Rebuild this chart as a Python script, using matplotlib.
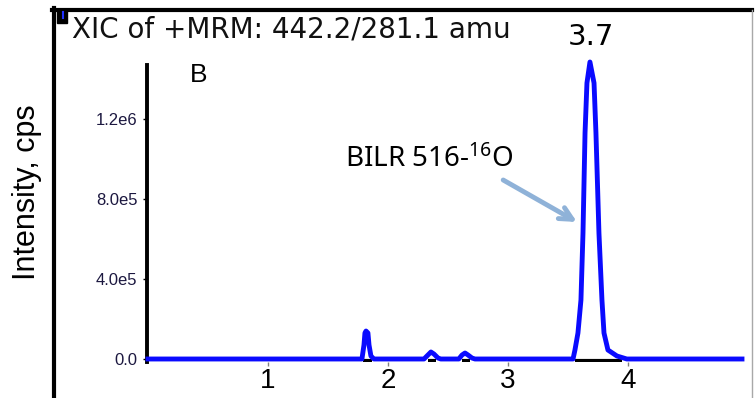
import numpy as np
import matplotlib.pyplot as plt
from matplotlib.patches import Rectangle
from matplotlib.lines import Line2D

plt.rcParams["font.family"] = ["Liberation Sans", "DejaVu Sans"]

# XIC trace (time in min, intensity in cps)
rt = [0.0,
      1.783, 1.80, 1.808, 1.817, 1.833, 1.842, 1.858, 1.883,
      2.30, 2.333, 2.358, 2.383, 2.417, 2.44,
      2.59, 2.617, 2.642, 2.667, 2.70, 2.725,
      3.542, 3.558, 3.583, 3.608, 3.625, 3.642, 3.658, 3.683,
      3.717, 3.733, 3.758, 3.783, 3.80, 3.833, 3.908, 3.99,
      4.95]
intensity = [0.0,
             0.0, 7.0e4, 1.3e5, 1.4e5, 1.3e5, 7.0e4, 1.5e4, 0.0,
             0.0, 2.0e4, 3.5e4, 2.5e4, 5.0e3, 0.0,
             0.0, 2.0e4, 3.0e4, 2.0e4, 5.0e3, 0.0,
             0.0, 4.5e4, 1.3e5, 2.95e5, 6.3e5, 1.13e6, 1.38e6, 1.485e6,
             1.38e6, 1.13e6, 6.3e5, 2.95e5, 1.3e5, 4.5e4, 1.5e4, 0.0,
             0.0]

# integrated peak windows (start, end)
peak_start = [1.79, 2.33, 2.62, 3.56]
peak_end = [1.87, 2.40, 2.68, 3.95]

yticks = [0, 4.0e5, 8.0e5, 1.2e6]
ytick_labels = ["0.0", "4.0e5", "8.0e5", "1.2e6"]
xticks = [1, 2, 3, 4]
xtick_labels = ["1", "2", "3", "4"]

title = "XIC of +MRM: 442.2/281.1 amu"
peak_label = "3.7"
compound = r"BILR 516-$\mathregular{^{16}}$O"

W, H = 755, 398
fig = plt.figure(figsize=(W / 100, H / 100), dpi=100)
fig.patch.set_facecolor("white")

# axes placed in pixel terms
ax = fig.add_axes([147 / W, 1 - 362 / H, (742 - 147) / W, 300 / H])
ax.set_xlim(-0.008, 4.95)
ax.set_ylim(-1.5e4, 1.485e6)

ax.plot(rt, intensity, color="#0a0aff", lw=3.5, solid_joinstyle="round",
        clip_on=False, zorder=3)
ax.hlines([-9e3] * len(peak_start), peak_start, peak_end, color="black",
          lw=3, zorder=2)

for s in ["top", "right", "bottom"]:
    ax.spines[s].set_visible(False)
ax.spines["left"].set_linewidth(2.8)
ax.spines["left"].set_bounds(-1.5e4, 1.47e6)

ax.set_yticks(yticks)
ax.set_yticklabels(ytick_labels, fontsize=12, color="#1c1840")
ax.tick_params(axis="y", length=3, width=1, pad=4)
ax.set_xticks(xticks)
ax.set_xticklabels(xtick_labels, fontsize=20)
ax.tick_params(axis="x", length=3, width=1, color="#808080", pad=1)

imax = int(np.argmax(intensity))
ax.annotate(peak_label, xy=(rt[imax], intensity[imax]), xytext=(1, 8),
            textcoords="offset points", ha="center", va="bottom", fontsize=21,
            family=["DejaVu Sans"], annotation_clip=False)

ax.annotate("", xy=(3.575, 6.85e5), xytext=(2.96, 8.95e5),
            arrowprops=dict(arrowstyle="->,head_length=0.9,head_width=0.45",
                            color="#8fb2d8", lw=3.5, shrinkA=0, shrinkB=0))
fig.text(345 / W, 1 - 167 / H, compound, fontsize=20, va="baseline",
         family=["Noto Sans", "DejaVu Sans"])

fig.text(190 / W, 1 - 82 / H, "B", fontsize=19, va="baseline")
fig.text(27 / W, 1 - 192 / H, "Intensity, cps", fontsize=22, rotation=90,
         ha="center", va="center")
fig.text(72 / W, 1 - 37 / H, title, fontsize=20, va="baseline",
         color="#111111", family=["DejaVu Sans"])

# outer frame of the software panel
def px_line(x0, y0, x1, y1, **kw):
    fig.add_artist(Line2D([x0 / W, x1 / W], [1 - y0 / H, 1 - y1 / H],
                          transform=fig.transFigure, **kw))

px_line(52, 10, 752, 10, color="black", lw=3)
px_line(54, 8, 54, 398, color="black", lw=3)
px_line(752, 10, 752, 398, color="#a8a8a8", lw=1)
fig.add_artist(Rectangle((57 / W, 1 - 23 / H), 10 / W, 12 / H,
                         transform=fig.transFigure, color="black"))
px_line(63, 12, 63, 18, color="#2030ff", lw=1.5)

fig.savefig("out.png", dpi=100)
